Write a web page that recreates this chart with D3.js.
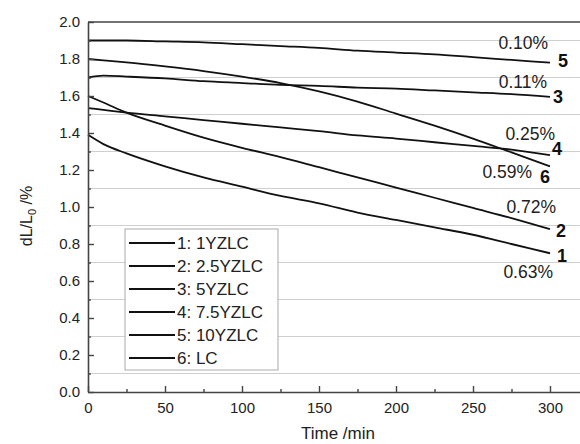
<!DOCTYPE html>
<html><head><meta charset="utf-8">
<script src="https://cdn.jsdelivr.net/npm/d3@7"></script>
<style>
html,body{margin:0;padding:0;background:#fff;}
svg{display:block;font-family:"Liberation Sans",Arial,sans-serif;}
</style></head>
<body>
<svg id="c" width="580" height="444"></svg>
<script>
// ---- data ----
const times = [0, 10, 25, 50, 75, 100, 125, 150, 175, 200, 225, 250, 275, 300];
const s1 = [1.39, 1.34, 1.29, 1.22, 1.16, 1.11, 1.06, 1.02, 0.97, 0.93, 0.89, 0.85, 0.80, 0.75];
const s2 = [1.60, 1.565, 1.51, 1.44, 1.375, 1.32, 1.27, 1.215, 1.16, 1.105, 1.05, 0.995, 0.94, 0.88];
const s3 = [1.70, 1.71, 1.705, 1.695, 1.68, 1.67, 1.66, 1.655, 1.645, 1.64, 1.63, 1.62, 1.61, 1.595];
const s4 = [1.535, 1.525, 1.51, 1.49, 1.47, 1.45, 1.43, 1.41, 1.387, 1.37, 1.35, 1.33, 1.31, 1.28];
const s5 = [1.90, 1.90, 1.90, 1.895, 1.89, 1.88, 1.87, 1.86, 1.845, 1.835, 1.825, 1.81, 1.795, 1.78];
const s6 = [1.80, 1.793, 1.782, 1.76, 1.735, 1.705, 1.67, 1.625, 1.57, 1.505, 1.44, 1.37, 1.295, 1.22];
const seriesNames = ["1: 1YZLC", "2: 2.5YZLC", "3: 5YZLC", "4: 7.5YZLC", "5: 10YZLC", "6: LC"];
const seriesIds = ["1", "2", "3", "4", "5", "6"];
const pctLabels = ["0.63%", "0.72%", "0.11%", "0.25%", "0.10%", "0.59%"];
const xTicks = [0, 50, 100, 150, 200, 250, 300];
const xMinor = [25, 75, 125, 175, 225, 275];
const yTicks = [0.0, 0.2, 0.4, 0.6, 0.8, 1.0, 1.2, 1.4, 1.6, 1.8, 2.0];
const yMinor = [0.1, 0.3, 0.5, 0.7, 0.9, 1.1, 1.3, 1.5, 1.7, 1.9];

const allSeries = [s1, s2, s3, s4, s5, s6];

// ---- layout ----
const svg = d3.select("#c");
const L = 88, T = 22, B = 392, R = 580.8;
const x = d3.scaleLinear().domain([0, 320]).range([L, R]);
const y = d3.scaleLinear().domain([0, 2]).range([B, T]);

// gridlines
svg.append("g").selectAll("line").data(yMinor).join("line")
  .attr("x1", L).attr("x2", R)
  .attr("y1", d => y(d)).attr("y2", d => y(d))
  .attr("stroke", "#cfcfcf").attr("stroke-width", 1);

// top frame
svg.append("line").attr("x1", L).attr("x2", R).attr("y1", y(2)).attr("y2", y(2))
  .attr("stroke", "#444").attr("stroke-width", 1.6);

// series
const line = d3.line().x(d => x(d[0])).y(d => y(d[1])).curve(d3.curveMonotoneX);
svg.append("g").selectAll("path").data(allSeries).join("path")
  .attr("d", s => line(times.map((t, i) => [t, s[i]])))
  .attr("fill", "none").attr("stroke", "#111").attr("stroke-width", 1.8);

// axes
const ax = svg.append("g").attr("transform", `translate(0,${B})`)
  .call(d3.axisBottom(x).tickValues(xTicks).tickSize(-6).tickSizeOuter(0).tickPadding(10).tickFormat(d3.format("d")));
svg.append("g").attr("transform", `translate(0,${B})`)
  .call(d3.axisBottom(x).tickValues(xMinor).tickSize(-3).tickSizeOuter(0).tickFormat(""))
  .select(".domain").remove();
const ay = svg.append("g").attr("transform", `translate(${L},0)`)
  .call(d3.axisLeft(y).tickValues(yTicks).tickSize(-6).tickSizeOuter(0).tickPadding(8).tickFormat(d3.format(".1f")));
svg.append("g").attr("transform", `translate(${L},0)`)
  .call(d3.axisLeft(y).tickValues(yMinor).tickSize(-3).tickSizeOuter(0).tickFormat(""))
  .select(".domain").remove();
svg.selectAll(".domain").attr("stroke", "#444").attr("stroke-width", 1.6);
svg.selectAll(".tick line").attr("stroke", "#444").attr("stroke-width", 1.4);
svg.selectAll(".tick text").attr("font-size", 15).attr("fill", "#222")
  .attr("font-family", "'Liberation Sans',Arial,sans-serif");
ax.selectAll(".tick text").attr("dy", "0.71em");

// axis titles
svg.append("text").attr("x", 338).attr("y", 439).attr("text-anchor", "middle")
  .attr("font-size", 17).attr("fill", "#222").text("Time /min");
const yt = svg.append("text").attr("transform", "translate(32,216) rotate(-90)")
  .attr("text-anchor", "middle").attr("font-size", 16).attr("fill", "#222");
yt.append("tspan").text("dL/L");
yt.append("tspan").attr("font-size", 11).attr("dy", 4).text("0");
yt.append("tspan").attr("dy", -4).text(" /%");

// end annotations (offsets from each series' last point)
const pctOff = [[3, 25, "end"], [6, -16, "end"], [-3, -9, "end"], [5, -15, "end"], [-2, -14, "end"], [-18, 12, "end"]];
const idOff = [[7, 9], [6, 8], [3, 6], [2, 0], [8, 4], [-10, 17]];
const last = times.length - 1;
allSeries.forEach((s, i) => {
  const ex = x(times[last]), ey = y(s[last]);
  svg.append("text").attr("x", ex + pctOff[i][0]).attr("y", ey + pctOff[i][1])
    .attr("text-anchor", pctOff[i][2]).attr("font-size", 17.5).attr("fill", "#222").text(pctLabels[i]);
  svg.append("text").attr("x", ex + idOff[i][0]).attr("y", ey + idOff[i][1])
    .attr("font-size", 18).attr("font-weight", "bold").attr("fill", "#111").text(seriesIds[i]);
});

// legend
const lg = svg.append("g").attr("transform", "translate(125,229)");
lg.append("rect").attr("width", 153).attr("height", 141).attr("fill", "#fff")
  .attr("stroke", "#aaa").attr("stroke-width", 1);
const rows = lg.selectAll("g").data(seriesNames).join("g")
  .attr("transform", (d, i) => `translate(0,${14 + i * 23})`);
rows.append("line").attr("x1", 4).attr("x2", 50).attr("stroke", "#111").attr("stroke-width", 1.8);
rows.append("text").attr("x", 52).attr("dy", "0.36em").attr("font-size", 17).attr("fill", "#222").text(d => d);
</script>
</body></html>
